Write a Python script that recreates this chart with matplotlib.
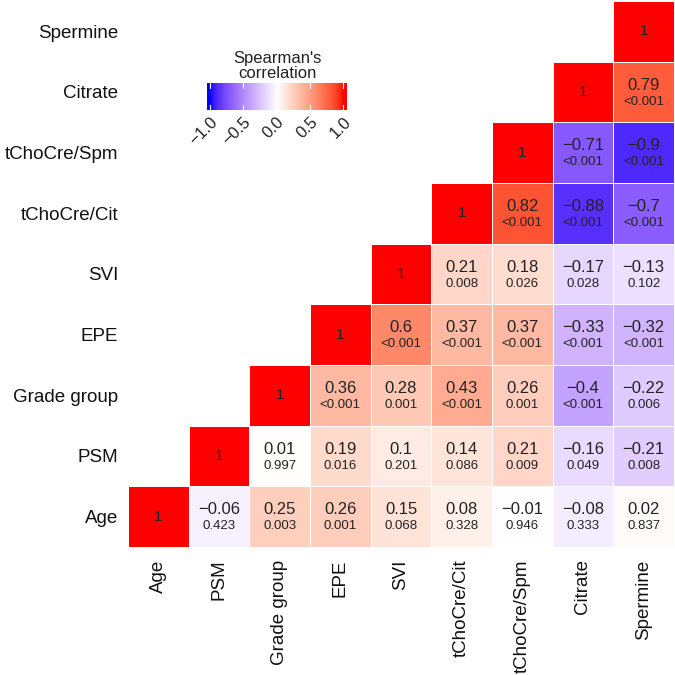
import numpy as np
import matplotlib
matplotlib.use("Agg")
import matplotlib.pyplot as plt
from matplotlib.colors import ListedColormap

plt.rcParams['font.family'] = ['Liberation Sans', 'DejaVu Sans']

variables = ["Age", "PSM", "Grade group", "EPE", "SVI",
             "tChoCre/Cit", "tChoCre/Spm", "Citrate", "Spermine"]

# correlations of each row variable with the variables after it (diagonal first)
r_age = [1, -0.06, 0.25, 0.26, 0.15, 0.08, -0.01, -0.08, 0.02]
r_psm = [1, 0.01, 0.19, 0.1, 0.14, 0.21, -0.16, -0.21]
r_grade = [1, 0.36, 0.28, 0.43, 0.26, -0.4, -0.22]
r_epe = [1, 0.6, 0.37, 0.37, -0.33, -0.32]
r_svi = [1, 0.21, 0.18, -0.17, -0.13]
r_tcit = [1, 0.82, -0.88, -0.7]
r_tspm = [1, -0.71, -0.9]
r_cit = [1, 0.79]
r_spm = [1]

p_age = ["", "0.423", "0.003", "0.001", "0.068", "0.328", "0.946", "0.333", "0.837"]
p_psm = ["", "0.997", "0.016", "0.201", "0.086", "0.009", "0.049", "0.008"]
p_grade = ["", "<0.001", "0.001", "<0.001", "0.001", "<0.001", "0.006"]
p_epe = ["", "<0.001", "<0.001", "<0.001", "<0.001", "<0.001"]
p_svi = ["", "0.008", "0.026", "0.028", "0.102"]
p_tcit = ["", "<0.001", "<0.001", "<0.001"]
p_tspm = ["", "<0.001", "<0.001"]
p_cit = ["", "<0.001"]
p_spm = [""]

r_rows = [r_age, r_psm, r_grade, r_epe, r_svi, r_tcit, r_tspm, r_cit, r_spm]
p_rows = [p_age, p_psm, p_grade, p_epe, p_svi, p_tcit, p_tspm, p_cit, p_spm]

cbar_ticks = [-1.0, -0.5, 0.0, 0.5, 1.0]

# ---- Lab-interpolated blue-white-red colormap ----
def srgb_to_lab(rgb):
    rgb = np.asarray(rgb, float)
    lin = np.where(rgb <= 0.04045, rgb / 12.92, ((rgb + 0.055) / 1.055) ** 2.4)
    M = np.array([[0.4124564, 0.3575761, 0.1804375],
                  [0.2126729, 0.7151522, 0.0721750],
                  [0.0193339, 0.1191920, 0.9503041]])
    xyz = lin @ M.T
    wp = np.array([0.95047, 1.0, 1.08883])
    t = xyz / wp
    d = 6 / 29
    f = np.where(t > d ** 3, np.cbrt(t), t / (3 * d * d) + 4 / 29)
    L = 116 * f[..., 1] - 16
    a = 500 * (f[..., 0] - f[..., 1])
    b = 200 * (f[..., 1] - f[..., 2])
    return np.stack([L, a, b], -1)

def lab_to_srgb(lab):
    lab = np.asarray(lab, float)
    fy = (lab[..., 0] + 16) / 116
    fx = fy + lab[..., 1] / 500
    fz = fy - lab[..., 2] / 200
    d = 6 / 29
    def finv(f):
        return np.where(f > d, f ** 3, 3 * d * d * (f - 4 / 29))
    wp = np.array([0.95047, 1.0, 1.08883])
    xyz = np.stack([finv(fx), finv(fy), finv(fz)], -1) * wp
    Minv = np.array([[3.2404542, -1.5371385, -0.4985314],
                     [-0.9692660, 1.8760108, 0.0415560],
                     [0.0556434, -0.2040259, 1.0572252]])
    lin = np.clip(xyz @ Minv.T, 0, 1)
    rgb = np.where(lin <= 0.0031308, 12.92 * lin, 1.055 * lin ** (1 / 2.4) - 0.055)
    return np.clip(rgb, 0, 1)

lab_b = srgb_to_lab([0, 0, 1])
lab_w = srgb_to_lab([1, 1, 1])
lab_r = srgb_to_lab([1, 0, 0])
n = 128
t = np.linspace(0, 1, n)[:, None]
lo = lab_b + (lab_w - lab_b) * t
hi = lab_w + (lab_r - lab_w) * t
cols = lab_to_srgb(np.vstack([lo, hi[1:]]))
cmap = ListedColormap(cols)

# ---- matrix ----
nv = len(variables)
M = np.full((nv, nv), np.nan)
for i, row in enumerate(r_rows):
    for k, v in enumerate(row):
        M[i, i + k] = v

W = 675
fig = plt.figure(figsize=(6.75, 6.75), dpi=100)
ax = fig.add_axes([128 / W, (W - 547) / W, 546 / W, 546 / W])
ax.pcolormesh(np.arange(nv + 1), np.arange(nv + 1), np.ma.masked_invalid(M),
              cmap=cmap, vmin=-1, vmax=1, edgecolors='white', linewidth=0.4)
ax.set_xlim(0, nv)
ax.set_ylim(0, nv)
ax.set_aspect('auto')
for s in ax.spines.values():
    s.set_visible(False)
ax.tick_params(axis='x', length=0, pad=9)
ax.tick_params(axis='y', length=0, pad=7)
ax.set_xticks(np.arange(nv) + 0.5)
ax.set_xticklabels(variables, rotation=90, fontsize=13.5, color='#111111')
ax.set_yticks(np.arange(nv) + 0.5)
ax.set_yticklabels(variables, fontsize=13.5, color='#111111')

tc = '#222222'
for i, row in enumerate(r_rows):
    for k, v in enumerate(row):
        j = i + k
        if k == 0:
            ax.text(j + 0.5, i + 0.5, "1", ha='center', va='center', fontsize=11, color=tc)
        else:
            s = f"{v:g}".replace('-', '\u2212')
            ax.text(j + 0.5, i + 0.61, s, ha='center', va='center', fontsize=12, color=tc)
            ax.text(j + 0.5, i + 0.34, p_rows[i][k], ha='center', va='center', fontsize=9.5, color=tc)

# ---- colorbar ----
cax = fig.add_axes([206.5 / W, (W - 110) / W, 140 / W, 27 / W])
grad = np.linspace(-1.05, 1.05, 256)[None, :]
cax.imshow(grad, aspect='auto', cmap=cmap, vmin=-1, vmax=1,
           extent=(-1.05, 1.05, 0, 1))
cax.set_xlim(-1.05, 1.05)
cax.set_ylim(0, 1)
for tk in cbar_ticks:
    cax.plot([tk, tk], [0, 0.2], color='white', lw=0.8)
    cax.plot([tk, tk], [0.8, 1], color='white', lw=0.8)
for s in cax.spines.values():
    s.set_visible(False)
cax.set_yticks([])
cax.set_xticks(cbar_ticks)
cax.set_xticklabels([f"{v:.1f}".replace('-', '\u2212') for v in cbar_ticks],
                    rotation=45, ha='right', va='top', rotation_mode='anchor',
                    fontsize=12, color='#222222')
cax.tick_params(length=0, pad=3)
fig.text(277 / W, 1 - 66 / W, "Spearman's\ncorrelation", ha='center', va='center',
         fontsize=12, color='#222222', linespacing=1.05)

fig.savefig("out.png", dpi=100)
